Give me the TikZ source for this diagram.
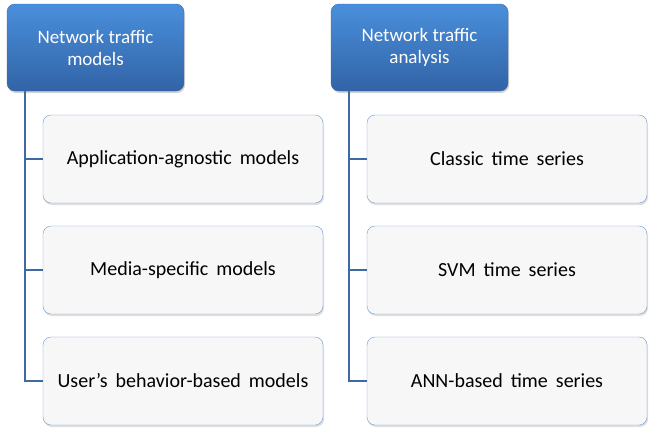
\documentclass[tikz,border=0pt]{standalone}
\usepackage{fontspec}
\setmainfont{Carlito}
\usetikzlibrary{positioning,shadows}
\definecolor{hdtop}{HTML}{4A8FDC}
\definecolor{hdbot}{HTML}{3263A6}
\definecolor{hdline}{HTML}{3A68A8}
\definecolor{itline}{HTML}{7298CC}
\definecolor{itfill}{HTML}{F7F7F7}
\definecolor{conn}{HTML}{3E69A3}
\newcommand\itemfont{\fontsize{20}{23}\selectfont\spaceskip=0.4em plus 0.1em\relax}

\begin{document}
\begin{tikzpicture}[x=1pt,y=-1pt,outer sep=0pt,align=center,
		header/.style={draw=hdline,rounded corners=8pt,top color=hdtop,bottom color=hdbot,
			minimum width=177pt,minimum height=87pt,text=white,font=\fontsize{19}{22}\selectfont,
			drop shadow={opacity=0.35,shadow xshift=1pt,shadow yshift=-2pt}},
		item/.style={draw=itline,rounded corners=8pt,fill=itfill,
			minimum width=280pt,minimum height=88pt,font=\itemfont,
			drop shadow={opacity=0.25,shadow xshift=1pt,shadow yshift=-2pt}},
		link/.style={draw=conn,line width=2.5pt},
		node distance=23pt]
		\useasboundingbox (0,0) rectangle (662,432);
		% left column
		\node[header,anchor=north west] (models) at (7,4) {Network traffic\\models};
		\node[item,anchor=north west] (agnostic) at (43,115) {Application-agnostic models};
		\node[item,below=of agnostic] (media) {Media-specific models};
		\node[item,below=of media] (behavior) {User’s behavior-based models};
		% right column
		\node[header,anchor=north west] (analysis) at (331,4) {Network traffic\\analysis};
		\node[item,anchor=north west] (classic) at (367,115) {Classic time series};
		\node[item,below=of classic] (svm) {SVM time series};
		\node[item,below=of svm] (ann) {ANN-based time series};
		% connectors
		\coordinate (mtrunk) at ([xshift=18pt]models.south west);
		\coordinate (atrunk) at ([xshift=18pt]analysis.south west);
		\draw[link] (mtrunk) |- (behavior.west);
		\draw[link] (mtrunk |- agnostic.west) -- (agnostic.west);
		\draw[link] (mtrunk |- media.west) -- (media.west);
		\draw[link] (atrunk) |- (ann.west);
		\draw[link] (atrunk |- classic.west) -- (classic.west);
		\draw[link] (atrunk |- svm.west) -- (svm.west);
	\end{tikzpicture}
\end{document}
